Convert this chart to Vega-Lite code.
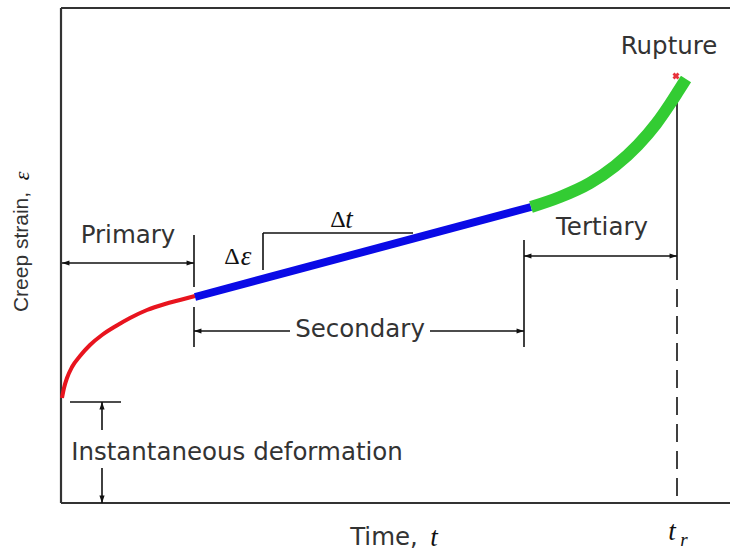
{
  "$schema": "https://vega.github.io/schema/vega-lite/v6.json",
  "width": 669,
  "height": 495,
  "autosize": {"type": "none"},
  "padding": {"left": 61, "top": 8, "right": 0, "bottom": 48},
  "background": "white",
  "config": {"view": {"stroke": null}},
  "datasets": {
    "curve": [
      {"t": 1, "e": 105, "phase": "Primary"},
      {"t": 3, "e": 115, "phase": "Primary"},
      {"t": 6, "e": 125, "phase": "Primary"},
      {"t": 11, "e": 136, "phase": "Primary"},
      {"t": 19, "e": 147, "phase": "Primary"},
      {"t": 29, "e": 158, "phase": "Primary"},
      {"t": 41, "e": 168, "phase": "Primary"},
      {"t": 55, "e": 177, "phase": "Primary"},
      {"t": 69, "e": 185, "phase": "Primary"},
      {"t": 86, "e": 193, "phase": "Primary"},
      {"t": 104, "e": 199, "phase": "Primary"},
      {"t": 119, "e": 203, "phase": "Primary"},
      {"t": 134, "e": 207, "phase": "Primary"},
      {"t": 134, "e": 206, "phase": "Secondary"},
      {"t": 470, "e": 296, "phase": "Secondary"},
      {"t": 470, "e": 296, "phase": "Tertiary"},
      {"t": 499, "e": 306, "phase": "Tertiary"},
      {"t": 529, "e": 320, "phase": "Tertiary"},
      {"t": 554, "e": 337, "phase": "Tertiary"},
      {"t": 577, "e": 358, "phase": "Tertiary"},
      {"t": 595, "e": 379, "phase": "Tertiary"},
      {"t": 609, "e": 399, "phase": "Tertiary"},
      {"t": 618, "e": 413, "phase": "Tertiary"},
      {"t": 625, "e": 424, "phase": "Tertiary"}
    ],
    "frame": [
      {"t": 0, "e": 0, "t2": 0, "e2": 495},
      {"t": 0, "e": 495, "t2": 669, "e2": 495},
      {"t": 0, "e": 0, "t2": 669, "e2": 0}
    ],
    "guides": [
      {"t": 133, "e": 268, "t2": 133, "e2": 216},
      {"t": 133, "e": 196, "t2": 133, "e2": 156},
      {"t": 1, "e": 240, "t2": 133, "e2": 240},
      {"t": 133, "e": 172, "t2": 229, "e2": 172},
      {"t": 369, "e": 172, "t2": 463, "e2": 172},
      {"t": 463, "e": 263, "t2": 463, "e2": 156},
      {"t": 463, "e": 247, "t2": 616, "e2": 247},
      {"t": 616, "e": 406, "t2": 616, "e2": 241},
      {"t": 202, "e": 270, "t2": 202, "e2": 233},
      {"t": 202, "e": 270, "t2": 352, "e2": 270},
      {"t": 9, "e": 101, "t2": 60, "e2": 101},
      {"t": 41, "e": 101, "t2": 41, "e2": 73},
      {"t": 41, "e": 35, "t2": 41, "e2": 0}
    ],
    "dashed": [
      {"t": 616, "e": 241, "t2": 616, "e2": 0}
    ],
    "arrows": [
      {"t": 1, "e": 240, "dir": "left"},
      {"t": 133, "e": 240, "dir": "right"},
      {"t": 133, "e": 172, "dir": "left"},
      {"t": 463, "e": 172, "dir": "right"},
      {"t": 463, "e": 247, "dir": "left"},
      {"t": 616, "e": 247, "dir": "right"},
      {"t": 41, "e": 101, "dir": "up"},
      {"t": 41, "e": 0, "dir": "down"}
    ],
    "labels": [
      {"t": 67, "e": 267, "label": "Primary"},
      {"t": 299, "e": 173, "label": "Secondary"},
      {"t": 541, "e": 275, "label": "Tertiary"},
      {"t": 608, "e": 456, "label": "Rupture"},
      {"t": 176, "e": 50, "label": "Instantaneous deformation"},
      {"t": 323, "e": -35, "label": "Time,"}
    ],
    "ytitle": [
      {"t": -39, "e": 251, "label": "Creep strain,"}
    ],
    "ytitleMath": [
      {"t": -39, "e": 327, "label": "ε"}
    ],
    "mathItalic": [
      {"t": 288, "e": 283, "label": "t"},
      {"t": 185, "e": 246, "label": "ε"},
      {"t": 373, "e": -35, "label": "t"},
      {"t": 611, "e": -29, "label": "t"}
    ],
    "mathSub": [
      {"t": 623, "e": -37, "label": "r"}
    ],
    "mathUpright": [
      {"t": 277, "e": 283, "label": "Δ"},
      {"t": 171, "e": 246, "label": "Δ"}
    ],
    "rupture": [
      {"t": 615, "e": 427}
    ]
  },
  "layer": [
    {
      "data": {"name": "frame"},
      "mark": {"type": "rule", "color": "#333333", "strokeWidth": 2.2},
      "encoding": {
        "x": {"field": "t", "type": "quantitative", "scale": {"domain": [0, 669], "nice": false, "zero": false}, "axis": null},
        "y": {"field": "e", "type": "quantitative", "scale": {"domain": [0, 495], "nice": false, "zero": false}, "axis": null},
        "x2": {"field": "t2"},
        "y2": {"field": "e2"}
      }
    },
    {
      "data": {"name": "guides"},
      "mark": {"type": "rule", "color": "#111111", "strokeWidth": 1.6},
      "encoding": {
        "x": {"field": "t", "type": "quantitative", "axis": null},
        "y": {"field": "e", "type": "quantitative", "axis": null},
        "x2": {"field": "t2"},
        "y2": {"field": "e2"}
      }
    },
    {
      "data": {"name": "dashed"},
      "mark": {"type": "rule", "color": "#111111", "strokeWidth": 1.6, "strokeDash": [18, 9]},
      "encoding": {
        "x": {"field": "t", "type": "quantitative", "axis": null},
        "y": {"field": "e", "type": "quantitative", "axis": null},
        "x2": {"field": "t2"},
        "y2": {"field": "e2"}
      }
    },
    {
      "data": {"name": "arrows"},
      "mark": {"type": "point", "filled": true, "color": "#111111", "opacity": 1, "size": 220},
      "encoding": {
        "x": {"field": "t", "type": "quantitative", "axis": null},
        "y": {"field": "e", "type": "quantitative", "axis": null},
        "shape": {
          "field": "dir", "type": "nominal", "legend": null,
          "scale": {
            "domain": ["left", "right", "up", "down"],
            "range": ["M0,0L1,-0.35L1,0.35Z", "M0,0L-1,-0.35L-1,0.35Z", "M0,0L-0.35,1L0.35,1Z", "M0,0L-0.35,-1L0.35,-1Z"]
          }
        }
      }
    },
    {
      "data": {"name": "rupture"},
      "mark": {"type": "point", "shape": "cross", "angle": 45, "filled": true, "color": "#e8323c", "size": 50, "opacity": 1},
      "encoding": {
        "x": {"field": "t", "type": "quantitative", "axis": null},
        "y": {"field": "e", "type": "quantitative", "axis": null}
      }
    },
    {
      "data": {"name": "curve"},
      "mark": {"type": "line", "strokeCap": "butt", "strokeJoin": "round", "interpolate": "monotone"},
      "encoding": {
        "x": {"field": "t", "type": "quantitative", "axis": null},
        "y": {"field": "e", "type": "quantitative", "axis": null},
        "color": {
          "field": "phase", "type": "nominal", "legend": null,
          "scale": {"domain": ["Primary", "Secondary", "Tertiary"], "range": ["#e8141e", "#0a0ae6", "#33cc33"]}
        },
        "strokeWidth": {
          "field": "phase", "type": "nominal", "legend": null,
          "scale": {"domain": ["Primary", "Secondary", "Tertiary"], "range": [4, 12, 11]}
        }
      }
    },
    {
      "data": {"name": "labels"},
      "mark": {"type": "text", "font": "DejaVu Sans", "fontSize": 24.5, "color": "#333333", "align": "center", "baseline": "middle"},
      "encoding": {
        "x": {"field": "t", "type": "quantitative", "axis": null},
        "y": {"field": "e", "type": "quantitative", "axis": null},
        "text": {"field": "label"}
      }
    },
    {
      "data": {"name": "ytitle"},
      "mark": {"type": "text", "font": "Liberation Sans", "fontSize": 21, "color": "#333333", "align": "center", "baseline": "middle", "angle": 270},
      "encoding": {
        "x": {"field": "t", "type": "quantitative", "axis": null},
        "y": {"field": "e", "type": "quantitative", "axis": null},
        "text": {"field": "label"}
      }
    },
    {
      "data": {"name": "ytitleMath"},
      "mark": {"type": "text", "font": "Liberation Serif", "fontStyle": "italic", "fontSize": 22, "color": "#111111", "align": "center", "baseline": "middle", "angle": 270},
      "encoding": {
        "x": {"field": "t", "type": "quantitative", "axis": null},
        "y": {"field": "e", "type": "quantitative", "axis": null},
        "text": {"field": "label"}
      }
    },
    {
      "data": {"name": "mathItalic"},
      "mark": {"type": "text", "font": "Liberation Serif", "fontStyle": "italic", "fontSize": 27, "color": "#111111", "align": "center", "baseline": "middle"},
      "encoding": {
        "x": {"field": "t", "type": "quantitative", "axis": null},
        "y": {"field": "e", "type": "quantitative", "axis": null},
        "text": {"field": "label"}
      }
    },
    {
      "data": {"name": "mathSub"},
      "mark": {"type": "text", "font": "Liberation Serif", "fontStyle": "italic", "fontSize": 19, "color": "#111111", "align": "center", "baseline": "middle"},
      "encoding": {
        "x": {"field": "t", "type": "quantitative", "axis": null},
        "y": {"field": "e", "type": "quantitative", "axis": null},
        "text": {"field": "label"}
      }
    },
    {
      "data": {"name": "mathUpright"},
      "mark": {"type": "text", "font": "Liberation Serif", "fontSize": 24, "color": "#111111", "align": "center", "baseline": "middle"},
      "encoding": {
        "x": {"field": "t", "type": "quantitative", "axis": null},
        "y": {"field": "e", "type": "quantitative", "axis": null},
        "text": {"field": "label"}
      }
    }
  ]
}
